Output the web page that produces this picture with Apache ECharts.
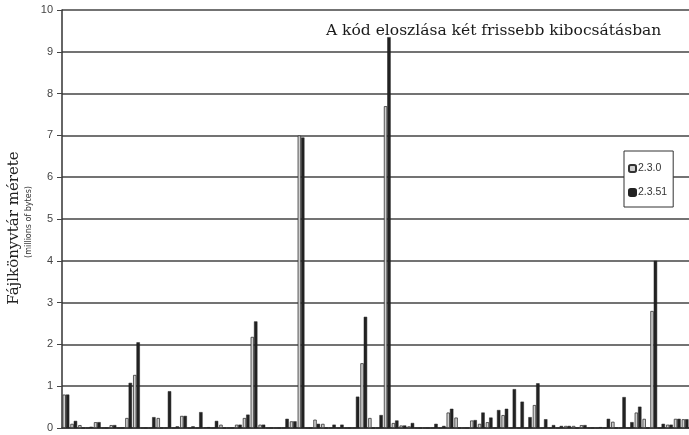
<!DOCTYPE html>
<html>
<head>
<meta charset="utf-8">
<script src="https://cdn.jsdelivr.net/npm/echarts@6/dist/echarts.min.js"></script>
<style>
html,body{margin:0;padding:0;background:#fff;}
#c{width:689px;height:435px;}
</style>
</head>
<body>
<div id="c"></div>
<script>
var titleText = 'A kód eloszlása két frissebb kibocsátásban';
var yName = 'Fájlkönyvtár mérete';
var ySubName = '(millions of bytes)';
var seriesNames = ['2.3.0', '2.3.51'];
var yTicks = [0,1,2,3,4,5,6,7,8,9,10];
var categories = [
 'd01','d02','d03','d04','d05','d06','d07','d08','d09','d10',
 'd11','d12','d13','d14','d15','d16','d17','d18','d19','d20',
 'd21','d22','d23','d24','d25','d26','d27','d28','d29','d30',
 'd31','d32','d33','d34','d35','d36','d37','d38','d39','d40',
 'd41','d42','d43','d44','d45','d46','d47','d48','d49','d50',
 'd51','d52','d53','d54','d55','d56','d57','d58','d59','d60',
 'd61','d62','d63','d64','d65','d66','d67','d68','d69','d70',
 'd71','d72','d73','d74','d75','d76','d77','d78','d79','d80'
];
var v230 = [
 0.8,0.1,0.07,0,0.14,0,0.07,0,0.24,1.27,
 0,0,0.24,0,0,0.29,0,0,0.02,0,
 0.08,0,0.08,0.24,2.18,0.08,0,0,0,0.16,
 7.0,0,0.2,0.1,0,0,0,0,1.55,0.24,
 0,7.7,0.12,0.06,0.04,0,0,0,0,0.37,
 0.25,0,0.18,0.1,0.14,0,0.31,0,0,0,
 0.55,0,0,0,0.05,0.05,0.07,0,0,0,
 0.15,0,0,0.37,0.22,2.8,0,0.08,0.22,0.21
];
var v2351 = [
 0.8,0.17,0,0.03,0.14,0,0.07,0,1.08,2.05,
 0,0.26,0,0.88,0.04,0.29,0.04,0.38,0.02,0.17,
 0,0,0.08,0.32,2.55,0.08,0,0,0.22,0.16,
 6.95,0,0.1,0,0.08,0.08,0,0.75,2.66,0,
 0.31,9.35,0.18,0.06,0.12,0,0,0.1,0.05,0.46,
 0,0,0.19,0.37,0.25,0.43,0.46,0.93,0.63,0.26,
 1.07,0.21,0.07,0.05,0.05,0,0.07,0,0.02,0.22,
 0,0.74,0.14,0.51,0,4.0,0.1,0.08,0.22,0.21
];

var chart = echarts.init(document.getElementById('c'), null, {renderer:'canvas'});
chart.setOption({
  backgroundColor: '#ffffff',
  animation: false,
  title: {
    text: titleText,
    left: 321, top: 18,
    textStyle: {fontFamily: 'DejaVu Serif', fontSize: 15.5, fontWeight: 'normal', color: '#1a1a1a'}
  },
  legend: {
    data: seriesNames,
    orient: 'vertical',
    left: 624, top: 151,
    backgroundColor: '#fff',
    borderColor: '#333', borderWidth: 1,
    padding: [12, 6, 9, 4],
    itemWidth: 7, itemHeight: 7, itemGap: 13,
    textStyle: {fontFamily: 'Liberation Sans', fontSize: 10.5, color: '#333', padding: [0,0,0,-3]}
  },
  grid: {left: 62, right: 0, top: 10, bottom: 7, containLabel: false},
  xAxis: {
    type: 'category',
    data: categories,
    axisLine: {show: true, lineStyle: {color: '#333', width: 1.5}},
    axisTick: {show: false},
    axisLabel: {show: false}
  },
  yAxis: {
    type: 'value',
    min: yTicks[0], max: yTicks[yTicks.length-1], interval: 1,
    axisLine: {show: true, lineStyle: {color: '#333', width: 1.5}},
    axisTick: {show: true, length: 5, lineStyle: {color: '#444'}},
    axisLabel: {fontFamily: 'Liberation Sans', fontSize: 11, color: '#444', margin: 9},
    splitLine: {show: true, lineStyle: {color: '#444', width: 1.5}}
  },
  graphic: [
    {type: 'text', x: 14, y: 228, rotation: Math.PI/2,
     style: {text: yName, font: '15px "DejaVu Serif"', fill: '#222', align: 'center', verticalAlign: 'middle'}},
    {type: 'text', x: 28.5, y: 222, rotation: Math.PI/2,
     style: {text: ySubName, font: '8px "DejaVu Sans"', fill: '#333', align: 'center', verticalAlign: 'middle'}}
  ],
  series: [
    {name: seriesNames[0], type: 'bar', data: v230, barWidth: 3.4, barGap: '0%',
     itemStyle: {color: '#d0d0d0', borderColor: '#333', borderWidth: 0.8}},
    {name: seriesNames[1], type: 'bar', data: v2351, barWidth: 3.4,
     itemStyle: {color: '#222', borderColor: '#222', borderWidth: 0.5}}
  ]
});
</script>
</body>
</html>
